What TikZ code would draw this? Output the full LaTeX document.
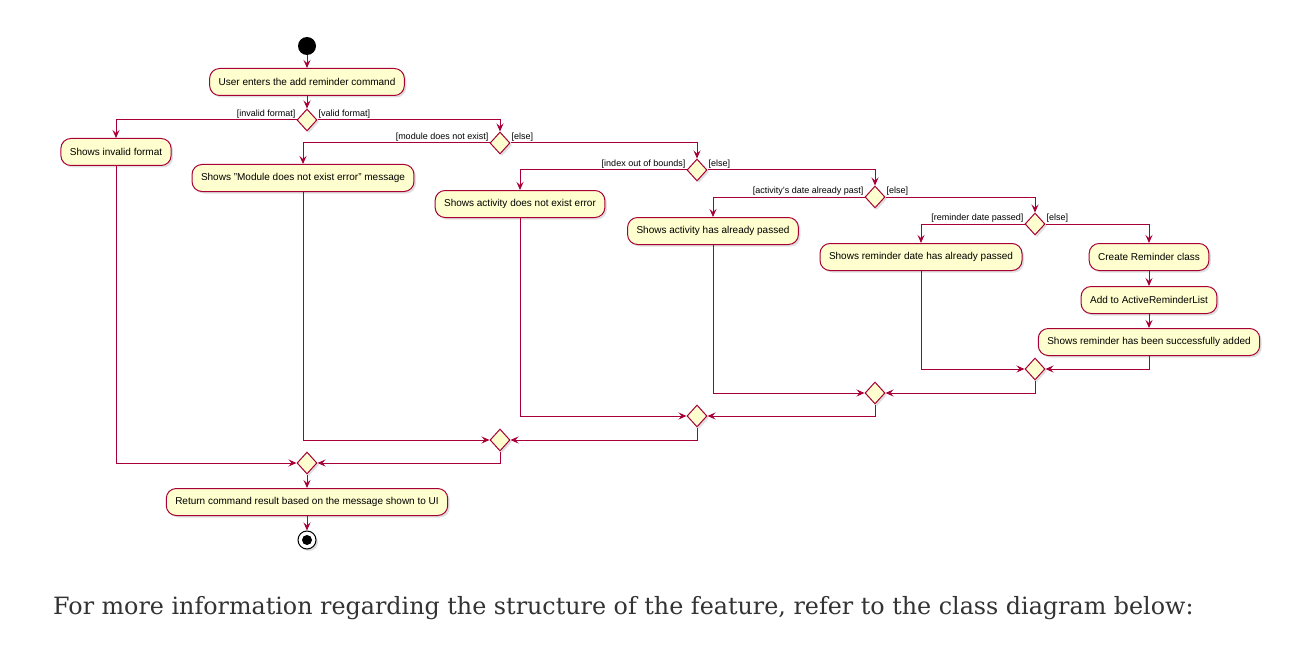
\documentclass[tikz,border=0pt]{standalone}
\usepackage{fontspec}
\setmainfont{DejaVu Serif}
\setsansfont{Liberation Sans}
\usepackage{tikz}
\usetikzlibrary{arrows.meta,positioning,shapes.geometric,shadows}
\definecolor{umlred}{HTML}{A80036}
\definecolor{umlfill}{HTML}{FEFECE}
\definecolor{bodytext}{HTML}{333333}

\begin{document}
\begin{tikzpicture}[x=1pt,y=-1pt,>={Stealth[length=8pt,width=7pt,inset=3pt]},
  umlshadow/.style={drop shadow={shadow xshift=2pt,shadow yshift=-2pt,opacity=0.25}},
  act/.style={draw=umlred,fill=umlfill,line width=1pt,rounded corners=10pt,minimum height=27pt,
    inner xsep=9pt,font=\sffamily\fontsize{10}{12}\selectfont,umlshadow},
  dec/.style={diamond,draw=umlred,fill=umlfill,line width=1pt,minimum width=20pt,minimum height=22pt,
    inner sep=0pt,umlshadow},
  guard/.style={font=\sffamily\fontsize{9}{10}\selectfont,inner sep=1pt},
  flow/.style={->,draw=umlred,line width=1pt}]
  \fill[white] (0,0) rectangle (1296,658);
  \useasboundingbox (0,0) rectangle (1296,658);
  \node[circle,fill=black,minimum size=18pt,inner sep=0pt] (start) at (307,46) {};
  \node[act] (cmd) at (307,82) {User enters the add reminder command};
  \node[dec] (d1) at (307,120) {};
  \node[act] (invalid) at (116,152) {Shows invalid format};
  \node[dec] (d2) at (500,143) {};
  \node[act] (nomod) at (303,178) {Shows "Module does not exist error" message};
  \node[dec] (d3) at (697,170) {};
  \node[act] (noact) at (520,204) {Shows activity does not exist error};
  \node[dec] (d4) at (875,197) {};
  \node[act] (actpast) at (713,231) {Shows activity has already passed};
  \node[dec] (d5) at (1035,224) {};
  \node[act] (rempast) at (921,257) {Shows reminder date has already passed};
  \node[act] (create) at (1149,257) {Create Reminder class};
  \node[act] (addlist) at (1149,300) {Add to ActiveReminderList};
  \node[act] (success) at (1149,342) {Shows reminder has been successfully added};
  \node[dec] (m6) at (1035,369) {};
  \node[dec] (m7) at (875,393) {};
  \node[dec] (m8) at (697,416) {};
  \node[dec] (m9) at (500,440) {};
  \node[dec] (m10) at (307,463) {};
  \node[act] (ret) at (307,502) {Return command result based on the message shown to UI};
  \node[circle,draw=black,fill=white,line width=1pt,minimum size=18pt,inner sep=0pt,umlshadow] (stop) at (307,540) {};
  \node[circle,fill=black,minimum size=10pt,inner sep=0pt] (stopdot) at (stop) {};

  \node[guard,anchor=south east] (g1a) at (d1.west) {[invalid format]};
  \node[guard,anchor=south west] (g1b) at (d1.east) {[valid format]};
  \node[guard,anchor=south east] (g2a) at (d2.west) {[module does not exist]};
  \node[guard,anchor=south west] (g2b) at (d2.east) {[else]};
  \node[guard,anchor=south east] (g3a) at (d3.west) {[index out of bounds]};
  \node[guard,anchor=south west] (g3b) at (d3.east) {[else]};
  \node[guard,anchor=south east] (g4a) at (d4.west) {[activity's date already past]};
  \node[guard,anchor=south west] (g4b) at (d4.east) {[else]};
  \node[guard,anchor=south east] (g5a) at (d5.west) {[reminder date passed]};
  \node[guard,anchor=south west] (g5b) at (d5.east) {[else]};

  \draw[flow] (start) -- (cmd);
  \draw[flow] (cmd) -- (d1);
  \draw[flow] (d1.west) -| (invalid.north);
  \draw[flow] (d1.east) -| (d2.north);
  \draw[flow] (d2.west) -| (nomod.north);
  \draw[flow] (d2.east) -| (d3.north);
  \draw[flow] (d3.west) -| (noact.north);
  \draw[flow] (d3.east) -| (d4.north);
  \draw[flow] (d4.west) -| (actpast.north);
  \draw[flow] (d4.east) -| (d5.north);
  \draw[flow] (d5.west) -| (rempast.north);
  \draw[flow] (d5.east) -| (create.north);
  \draw[flow] (create) -- (addlist);
  \draw[flow] (addlist) -- (success);
  \draw[flow] (rempast.south) |- (m6.west);
  \draw[flow] (success.south) |- (m6.east);
  \draw[flow] (actpast.south) |- (m7.west);
  \draw[flow] (m6.south) |- (m7.east);
  \draw[flow] (noact.south) |- (m8.west);
  \draw[flow] (m7.south) |- (m8.east);
  \draw[flow] (nomod.south) |- (m9.west);
  \draw[flow] (m8.south) |- (m9.east);
  \draw[flow] (invalid.south) |- (m10.west);
  \draw[flow] (m9.south) |- (m10.east);
  \draw[flow] (m10) -- (ret);
  \draw[flow] (ret) -- (stop);

  \node[anchor=base west,inner sep=0pt,text=bodytext,font=\fontsize{23.8}{28}\selectfont] (note) at (53,614)
    {For more information regarding the structure of the feature, refer to the class diagram below:};
\end{tikzpicture}
\end{document}
